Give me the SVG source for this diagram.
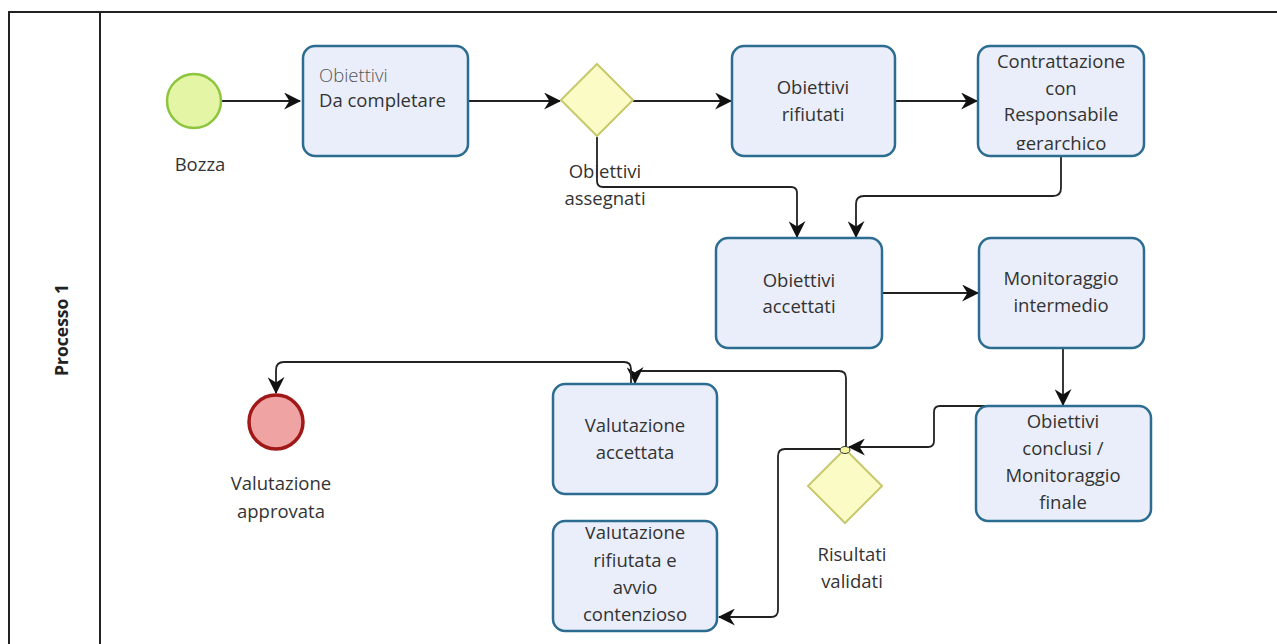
<svg xmlns="http://www.w3.org/2000/svg" width="1277" height="644" viewBox="0 0 1277 644">
<defs>
<style>
.pool{fill:none;stroke:#222;stroke-width:2}
.task{fill:#e9eefa;stroke:#2b6c90;stroke-width:2.5}
.gw{fill:#fbfbc6;stroke:#c6c96c;stroke-width:2}
.t{font-family:"Open Sans","Noto Sans",sans-serif;font-size:18.5px;fill:#333;text-anchor:middle}
.tl{font-family:"Open Sans","Noto Sans",sans-serif;font-size:18.5px;fill:#333}
.c{fill:none;stroke:#222;stroke-width:1.8}
</style>
<marker id="arr" viewBox="0 0 16 16" refX="15" refY="8" markerWidth="17" markerHeight="17" markerUnits="userSpaceOnUse" orient="auto">
<path d="M0,0 L16,8 L0,16 L5,8 Z" fill="#111"/>
</marker>
<clipPath id="clipContr"><rect x="978" y="46" width="166" height="104"/></clipPath>
<clipPath id="clipRif"><rect x="553" y="527" width="164" height="104"/></clipPath>
</defs>
<rect width="1277" height="644" fill="#fff"/>
<g id="pool">
<path class="pool" d="M9,644 V12 H1277 M100,12 V644"/>
<text x="0" y="0" transform="translate(68,330) rotate(-90)" style="font-family:'Open Sans','Noto Sans',sans-serif;font-size:17.5px;font-weight:bold;fill:#222;text-anchor:middle">Processo 1</text>
</g>
<g id="connectors">
<path class="c" d="M221,101 H300" marker-end="url(#arr)"/>
<path class="c" d="M468,101 H560" marker-end="url(#arr)"/>
<path class="c" d="M633,101 H731" marker-end="url(#arr)"/>
<path class="c" d="M895,101 H977" marker-end="url(#arr)"/>
<path class="c" d="M597,137 V181 Q597,187 603,187 H791 Q797,187 797,193 V237" marker-end="url(#arr)"/>
<path class="c" d="M1061,156 V188 Q1061,196 1053,196 H864 Q856,196 856,204 V237" marker-end="url(#arr)"/>
<path class="c" d="M882,293 H978" marker-end="url(#arr)"/>
<path class="c" d="M1063,348 V405" marker-end="url(#arr)"/>
<path class="c" d="M985,406 H940 Q934,406 934,412 V441 Q934,447 928,447 H849" marker-end="url(#arr)"/>
<path class="c" d="M846,447 V378 Q846,371 839,371 H641 Q635,371 635,377 V383" marker-end="url(#arr)"/>
<path class="c" d="M631,384 V369 Q631,362 624,362 H284 Q276,362 276,370 V393" marker-end="url(#arr)"/>
<path class="c" d="M843,449 H785 Q778,449 778,456 V610 Q778,617 771,617 H719" marker-end="url(#arr)"/>
</g>
<g id="start">
<circle cx="194" cy="101" r="27" fill="#e5f5a6" stroke="#8dc53f" stroke-width="2.5"/>
<text class="t" x="200" y="171">Bozza</text>
</g>
<g id="task1">
<rect class="task" x="303" y="46" width="165" height="110" rx="12"/>
<text class="tl" x="319" y="82" style="font-weight:300;fill:#555">Obiettivi</text>
<text class="tl" x="319" y="107">Da completare</text>
</g>
<g id="gw1">
<polygon class="gw" points="597,64 633,100 597,136 561,100"/>
<text class="t" x="605" y="178">Obiettivi</text>
<text class="t" x="605" y="205">assegnati</text>
</g>
<g id="rifiutati">
<rect class="task" x="732" y="46" width="163" height="110" rx="12"/>
<text class="t" x="813" y="94">Obiettivi</text>
<text class="t" x="813" y="121">rifiutati</text>
</g>
<g id="contrattazione">
<rect class="task" x="978" y="46" width="166" height="110" rx="12"/>
<g clip-path="url(#clipContr)">
<text class="t" x="1061" y="68">Contrattazione</text>
<text class="t" x="1061" y="95">con</text>
<text class="t" x="1061" y="121">Responsabile</text>
<text class="t" x="1061" y="150">gerarchico</text>
</g>
</g>
<g id="accettati">
<rect class="task" x="716" y="238" width="166" height="110" rx="12"/>
<text class="t" x="799" y="287">Obiettivi</text>
<text class="t" x="799" y="313">accettati</text>
</g>
<g id="monitoraggio">
<rect class="task" x="979" y="238" width="165" height="110" rx="12"/>
<text class="t" x="1061" y="285">Monitoraggio</text>
<text class="t" x="1061" y="312">intermedio</text>
</g>
<g id="conclusi">
<rect class="task" x="976" y="406" width="175" height="115" rx="12"/>
<text class="t" x="1063" y="428">Obiettivi</text>
<text class="t" x="1063" y="455">conclusi /</text>
<text class="t" x="1063" y="482">Monitoraggio</text>
<text class="t" x="1063" y="509">finale</text>
</g>
<g id="gw2">
<polygon class="gw" points="845,449 882,486 845,523 808,486"/>
<ellipse cx="845" cy="450" rx="5" ry="3.5" fill="#f5f5a0" stroke="#333" stroke-width="1"/>
<text class="t" x="852" y="561">Risultati</text>
<text class="t" x="852" y="588">validati</text>
</g>
<g id="val-accettata">
<rect class="task" x="553" y="384" width="164" height="110" rx="12"/>
<text class="t" x="635" y="432">Valutazione</text>
<text class="t" x="635" y="459">accettata</text>
</g>
<g id="val-rifiutata">
<rect class="task" x="553" y="521" width="164" height="110" rx="12"/>
<g clip-path="url(#clipRif)">
<text class="t" x="635" y="539">Valutazione</text>
<text class="t" x="635" y="567">rifiutata e</text>
<text class="t" x="635" y="594">avvio</text>
<text class="t" x="635" y="621">contenzioso</text>
</g>
</g>
<g id="end">
<circle cx="276" cy="422" r="27" fill="#f0a3a3" stroke="#a01818" stroke-width="3.5"/>
<text class="t" x="281" y="490">Valutazione</text>
<text class="t" x="281" y="518">approvata</text>
</g>
</svg>
